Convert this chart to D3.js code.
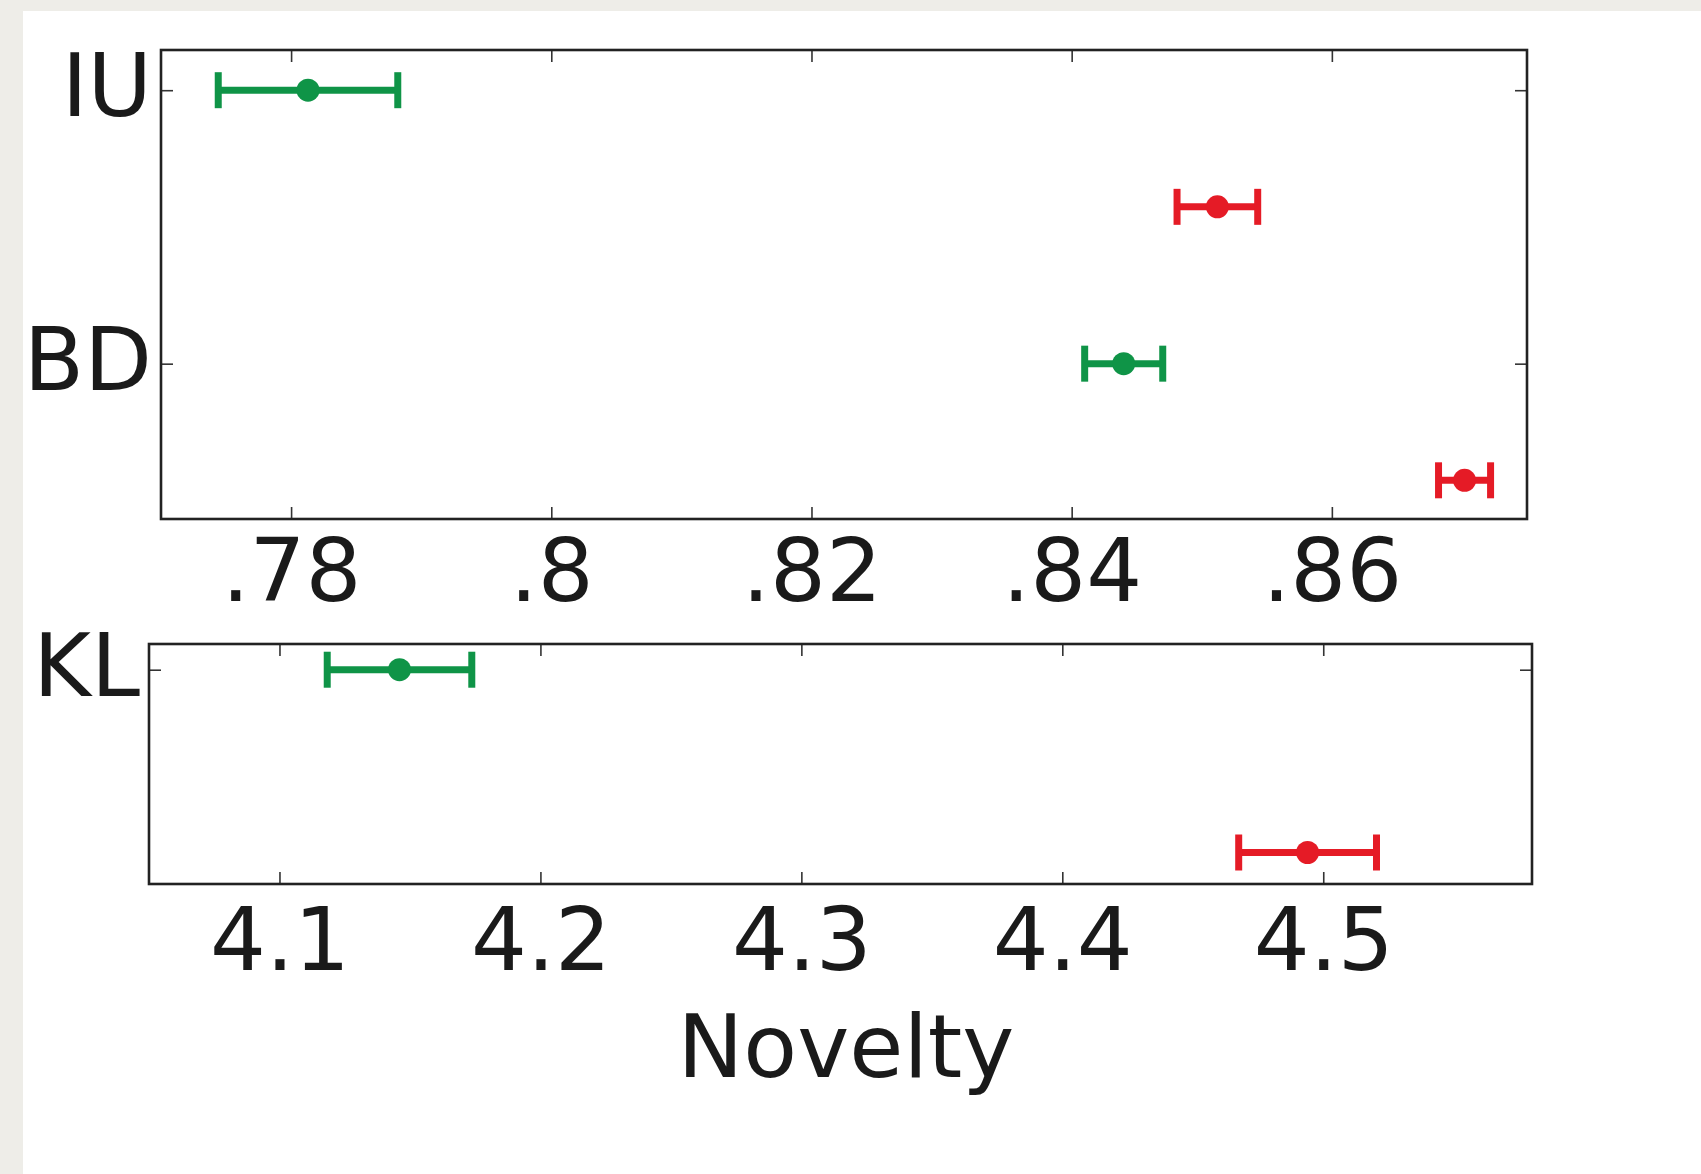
<html>
<head>
  <script type="text/javascript" src="https://d3js.org/d3.v7.min.js"></script>
  <style>
      body { margin: 0;
          background: #eeede8; }
      text { font-family: "DejaVu Sans", sans-serif;
          fill: #1a1a1a; }
  </style>
</head>
<body>
<div id="chart"></div>
<script>
    // top panel (proportion metric), categories from top to bottom
    let topCats = ["IU", "BD"];
    let topGreenMean = [0.7813, 0.8440];
    let topGreenErr = [0.0069, 0.0030];
    let topRedMean = [0.8512, 0.8702];
    let topRedErr = [0.0031, 0.0020];
    let topTicks = [0.78, 0.80, 0.82, 0.84, 0.86];
    let topTickLabels = [".78", ".8", ".82", ".84", ".86"];

    // bottom panel (KL)
    let botCats = ["KL"];
    let botGreenMean = [4.146];
    let botGreenErr = [0.0277];
    let botRedMean = [4.494];
    let botRedErr = [0.0264];
    let botTicks = [4.1, 4.2, 4.3, 4.4, 4.5];
    let botTickLabels = ["4.1", "4.2", "4.3", "4.4", "4.5"];

    let xLabel = "Novelty";

    const GREEN = "#0f9447";
    const RED = "#e51b26";
    const RED_OFFSET = 0.4265;   // red row sits below its category
    const FONT = 88;

    let width = 1701;
    let height = 1174;

    const svg = d3.select("#chart")
        .append("svg")
        .attr("width", width)
        .attr("height", height);

    // white slide area
    svg.append("rect")
        .attr("x", 23).attr("y", 11)
        .attr("width", width - 23).attr("height", height - 11)
        .attr("fill", "#ffffff");

    function drawPanel(opt) {
        const x = d3.scaleLinear().domain(opt.xDomain).range([opt.left, opt.right]);
        const y = d3.scaleLinear().domain(opt.yDomain).range([opt.bottom, opt.top]);
        const n = opt.cats.length;
        const catY = opt.cats.map((c, i) => n - 1 - i);

        const g = svg.append("g");

        // ticks pointing inward on all four sides
        const tickFmt = (d, i) => opt.tickLabels[i];
        let xb = g.append("g")
            .attr("transform", "translate(0," + opt.bottom + ")")
            .call(d3.axisBottom(x).tickValues(opt.ticks).tickSize(-12)
                .tickPadding(opt.labelPad).tickFormat(tickFmt));
        xb.selectAll("text").attr("font-size", FONT).attr("font-family", "DejaVu Sans").attr("fill", "#1a1a1a");
        g.append("g")
            .attr("transform", "translate(0," + opt.top + ")")
            .call(d3.axisTop(x).tickValues(opt.ticks).tickSize(-12).tickFormat(""));

        let yl = g.append("g")
            .attr("transform", "translate(" + opt.left + ",0)")
            .call(d3.axisLeft(y).tickValues(catY).tickSize(-12).tickPadding(9)
                .tickFormat(d => opt.cats[n - 1 - d]));
        yl.selectAll("text")
            .attr("font-size", FONT).attr("font-family", "DejaVu Sans").attr("fill", "#1a1a1a")
            .attr("dy", "0.29em");
        g.append("g")
            .attr("transform", "translate(" + opt.right + ",0)")
            .call(d3.axisRight(y).tickValues(catY).tickSize(-12).tickFormat(""));

        g.selectAll(".domain").remove();
        g.selectAll(".tick line").attr("stroke", "#333").attr("stroke-width", 1.6);

        // frame
        g.append("rect")
            .attr("x", opt.left).attr("y", opt.top)
            .attr("width", opt.right - opt.left).attr("height", opt.bottom - opt.top)
            .attr("fill", "none").attr("stroke", "#222").attr("stroke-width", 2.6);

        // error bars
        let series = [];
        opt.cats.forEach((c, i) => {
            series.push({yv: catY[i], m: opt.green[i], e: opt.greenErr[i], col: GREEN});
            series.push({yv: catY[i] - RED_OFFSET, m: opt.red[i], e: opt.redErr[i], col: RED});
        });

        let eb = g.selectAll(".eb").data(series).enter().append("g").attr("class", "eb");
        eb.append("line")
            .attr("x1", d => x(d.m - d.e)).attr("x2", d => x(d.m + d.e))
            .attr("y1", d => y(d.yv)).attr("y2", d => y(d.yv))
            .attr("stroke", d => d.col).attr("stroke-width", 7);
        eb.selectAll(".cap").data(d => [d.m - d.e, d.m + d.e].map(v => ({v: v, yv: d.yv, col: d.col})))
            .enter().append("line")
            .attr("class", "cap")
            .attr("x1", d => x(d.v)).attr("x2", d => x(d.v))
            .attr("y1", d => y(d.yv) - 18).attr("y2", d => y(d.yv) + 18)
            .attr("stroke", d => d.col).attr("stroke-width", 7);
        eb.append("circle")
            .attr("cx", d => x(d.m)).attr("cy", d => y(d.yv))
            .attr("r", 11.5)
            .attr("fill", d => d.col);
    }

    drawPanel({
        cats: topCats, green: topGreenMean, greenErr: topGreenErr,
        red: topRedMean, redErr: topRedErr,
        ticks: topTicks, tickLabels: topTickLabels,
        xDomain: [0.77, 0.875], yDomain: [-0.568, 1.147],
        left: 161, right: 1527, top: 50, bottom: 519, labelPad: 20
    });

    drawPanel({
        cats: botCats, green: botGreenMean, greenErr: botGreenErr,
        red: botRedMean, redErr: botRedErr,
        ticks: botTicks, tickLabels: botTickLabels,
        xDomain: [4.05, 4.58], yDomain: [-0.5, 0.06],
        left: 149, right: 1532, top: 644, bottom: 884, labelPad: 24
    });

    svg.append("text")
        .attr("x", 846).attr("y", 1077)
        .attr("text-anchor", "middle")
        .attr("font-size", FONT)
        .text(xLabel);
</script>
</body>
</html>
